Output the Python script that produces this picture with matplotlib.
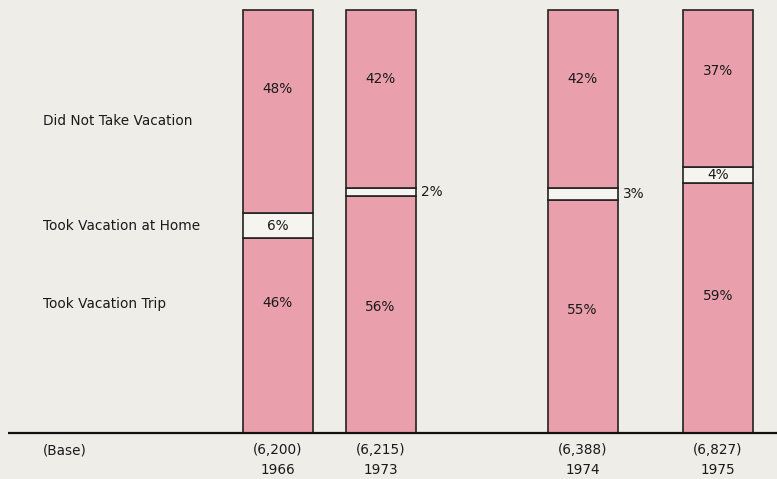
import matplotlib.pyplot as plt

years = ["1966", "1973", "1974", "1975"]
bases = ["(6,200)", "(6,215)", "(6,388)", "(6,827)"]
trip = [46, 56, 55, 59]
home = [6, 2, 3, 4]
no_vac = [48, 42, 42, 37]
categories = ["Did Not Take Vacation", "Took Vacation at Home", "Took Vacation Trip"]

bg = "#eeede7"
pink = "#eaa0ac"
band = "#f6f4ee"
ink = "#1a1a1a"

plt.rcParams['font.family'] = ['DejaVu Sans']

fig = plt.figure(figsize=(7.77, 4.79), dpi=100)
fig.patch.set_facecolor(bg)
ax = fig.add_axes([0, 0, 1, 1])
ax.set_facecolor(bg)
ax.set_xlim(0, 777)
px = 4.23  # pixels per percent
ax.set_ylim(-46 / px, 100 + 10 / px)
ax.axis("off")

xs = [277.5, 380.5, 582.5, 718]
w = 70

ax.bar(xs, trip, width=w, color=pink, edgecolor="#222222", linewidth=1.2)
ax.bar(xs, home, width=w, bottom=trip, color=band, edgecolor="#222222", linewidth=1.2)
tops = [t + h for t, h in zip(trip, home)]
ax.bar(xs, no_vac, width=w, bottom=tops, color=pink, edgecolor="#222222", linewidth=1.2)

fs = 9.8
trip_frac = [0.33, 0.47, 0.47, 0.45]
for i, x in enumerate(xs):
    ax.text(x, trip[i] * (1 - trip_frac[i]), f"{trip[i]}%", ha="center", va="center",
            fontsize=fs, color=ink)
    ax.text(x, 100 - no_vac[i] * 0.39, f"{no_vac[i]}%", ha="center", va="center",
            fontsize=fs, color=ink)
    mid = trip[i] + home[i] / 2
    if home[i] >= 4:
        ax.text(x, mid, f"{home[i]}%", ha="center", va="center", fontsize=fs, color=ink)
    else:
        ax.text(x + w / 2 + 5, mid, f"{home[i]}%", ha="left", va="center",
                fontsize=fs, color=ink)
    ax.text(x, -17 / px, bases[i], ha="center", va="center", fontsize=fs, color=ink)
    ax.text(x, -37 / px, years[i], ha="center", va="center", fontsize=fs, color=ink)

label_y = [(433 - 121) / px, (433 - 226) / px, (433 - 304) / px]
for lab, y in zip(categories, label_y):
    ax.text(43, y, lab, ha="left", va="center", fontsize=fs, color=ink)
ax.text(43, -17 / px, "(Base)", ha="left", va="center", fontsize=fs, color=ink)

ax.plot([8, 777], [0, 0], color="#111111", linewidth=1.6, solid_capstyle="butt")

fig.savefig("out.png", dpi=100, facecolor=bg)
